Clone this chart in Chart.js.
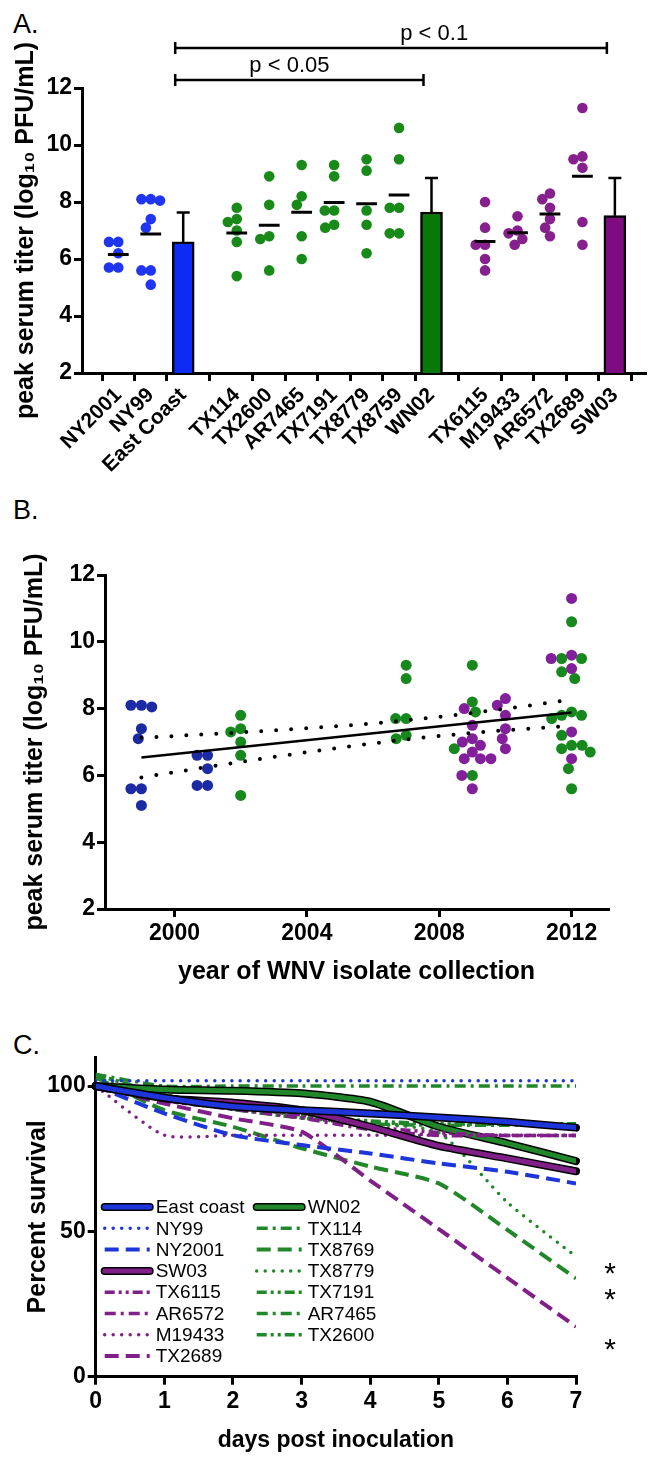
<!DOCTYPE html>
<html>
<head>
<meta charset="utf-8">
<script src="https://cdn.jsdelivr.net/npm/chart.js@4.4.1/dist/chart.umd.min.js"></script>
<style>
  body { margin: 0; background: #fff; width: 662px; height: 1462px; position: relative; overflow: hidden;
         font-family: 'Liberation Sans', Arial, Helvetica, sans-serif; }
  canvas { position: absolute; left: 0; }
  .panel { position: absolute; left: 13px; font-size: 27px; line-height: 1; color: #000; }
</style>
</head>
<body>
<div class="panel" style="top:11px">A.</div>
<div class="panel" style="top:497px">B.</div>
<div class="panel" style="top:1032px">C.</div>
<canvas id="chartA" width="662" height="485" style="top:0"></canvas>
<canvas id="chartB" width="662" height="525" style="top:485px"></canvas>
<canvas id="chartC" width="662" height="452" style="top:1010px"></canvas>
<script>
// ---- Panel A / B data: peak serum titers (log10 PFU/mL) ----
const strainsA = ['NY2001', 'NY99', 'East Coast', 'TX114', 'TX2600', 'AR7465', 'TX7191', 'TX8779', 'TX8759', 'WN02',
                  'TX6115', 'M19433', 'AR6572', 'TX2689', 'SW03'];
const groupA = [0, 0, 0, 1, 1, 1, 1, 1, 1, 1, 2, 2, 2, 2, 2];

const ny2001 = [6.6, 6.6, 6.2, 5.7, 5.7];
const ny99   = [8.1, 8.1, 8.05, 7.4, 7.1, 5.6, 5.6, 5.1];
const tx114  = [7.8, 7.4, 7.3, 7.0, 6.6, 5.4];
const tx2600 = [8.9, 7.9, 6.8, 6.7, 5.6];
const ar7465 = [9.3, 8.2, 7.9, 6.8, 6.0];
const tx7191 = [9.3, 8.9, 7.7, 7.7, 7.2, 7.1];
const tx8779 = [9.5, 9.1, 7.7, 7.2, 6.2];
const tx8759 = [10.6, 9.5, 7.8, 7.8, 6.9, 6.9];
const tx6115 = [8.0, 7.1, 6.5, 6.5, 6.0, 5.6];
const m19433 = [7.5, 7.0, 6.9, 6.7, 6.5];
const ar6572 = [8.3, 8.1, 7.8, 7.4, 7.1, 6.8];
const tx2689 = [11.3, 9.6, 9.5, 9.2, 7.3, 6.5];

const barNames = ['East Coast', 'WN02', 'SW03'];
const barMeans = [6.6, 7.65, 7.52];
const barErr   = [1.03, 1.19, 1.32];

const yTicksA = [2, 4, 6, 8, 10, 12];

// year each isolate was collected (panel B)
const isolatesB = ['NY99', 'NY2001', 'TX114', 'TX7191', 'AR7465', 'TX6115', 'M19433', 'AR6572', 'TX2600', 'TX8779', 'TX8759', 'TX2689'];
const isolateYears = [1999, 2001, 2002, 2007, 2009, 2009, 2009, 2010, 2012, 2012, 2012, 2012];
const xTicksB = [2000, 2004, 2008, 2012];

// ---- Panel C data: percent survival ----
const daysC = [0, 1, 2, 3, 4, 5, 6, 7];
const survEastCoast = [100, 96, 93, 91.7, 90.6, 89.2, 87.7, 85.7];
const survNY99      = [101.8, 101.8, 101.8, 101.8, 101.8, 101.8, 101.8, 101.8];
const survNY2001    = [100, 90.6, 83.1, 79.7, 76.8, 73.4, 70.5, 66.5];
const survSW03      = [100, 95.8, 94.3, 91.7, 86, 79.4, 75.1, 70.7];
const survTX6115    = [100, 96, 93, 90, 86, 84, 83, 83];
const survAR6572    = [100, 95, 92, 89, 85, 83, 83, 83];
const survM19433    = [100, 83.1, 83.1, 83.1, 83.1, 83.1, 83.1, 83.1];
const survTX2689    = [100, 94, 88.9, 84.3, 67.5, 50.8, 34, 17.2];
const survWN02      = [100, 98.8, 98.4, 97.5, 94.6, 86, 80.3, 74.2];
const survTX114     = [104, 100, 100, 100, 100, 100, 100, 100];
const survTX8769    = [103, 91.7, 86, 78.6, 72.3, 66.5, 50.5, 33.8];
const survTX8779    = [102, 95, 92, 89, 87, 84, 60, 41.3];
const survTX7191    = [104, 97, 93, 90, 88, 87, 87, 87];
const survAR7465    = [103, 96, 92, 89, 87, 86.5, 86.5, 86.5];
const survTX2600    = [104, 97, 93, 90, 87.5, 87, 87, 87];
const yTicksC = [0, 50, 100];
const starValuesC = [38, 29, 12];

// ---- styling ----
Chart.defaults.font.family = "'Liberation Sans', Arial, Helvetica, sans-serif";
Chart.defaults.color = '#000';
const TICK_FONT = { size: 23, weight: 'bold' };
const TITLE_FONT = { size: 25, weight: 'bold' };
const dotColorsA = ['#1f35ef', '#178a17', '#86208d'];
const barColorsA = ['#0d2bf2', '#087808', '#7d0c80'];
const dotColorsB = ['#1c2ba3', '#17881d', '#82209c'];
const blueC = '#1d35d9', greenC = '#22872a', purpleC = '#7f1f87';

function axis(extra) {
  return Object.assign({
    grid: { drawOnChartArea: false, color: '#000', lineWidth: 3, tickLength: 8 },
    border: { color: '#000', width: 3 }
  }, extra);
}
// pin a scale's size so the plot area lands where the figure has it
const fixWidth = w => s => { s.width = w; s.paddingTop = 0; s.paddingBottom = 0; };
const fixHeight = h => s => { s.height = h; s.paddingLeft = 0; s.paddingRight = 0; };

const mean = a => a.reduce((s, v) => s + v, 0) / a.length;

// simple beeswarm: returns an x for each value, spread sideways to avoid overlap
function swarm(values, center, unitX, unitY, diam) {
  const placed = [];
  const xs = new Array(values.length);
  const order = values.map((v, i) => i).sort((a, b) => values[b] - values[a]);
  order.forEach(i => {
    const y = values[i] / unitY;
    const blocked = [];
    placed.forEach(p => {
      const dy = Math.abs(p.y - y);
      if (dy < diam) {
        const w = Math.sqrt(diam * diam - dy * dy);
        blocked.push([p.x - w, p.x + w]);
      }
    });
    const cands = [0];
    blocked.forEach(b => cands.push(b[0], b[1]));
    cands.sort((a, b) => Math.abs(a) - Math.abs(b));
    const x = cands.find(c => blocked.every(b => c <= b[0] + 1e-6 || c >= b[1] - 1e-6));
    placed.push({ x, y });
    xs[i] = center + x * unitX;
  });
  return xs;
}

const titersA = {
  NY2001: ny2001, NY99: ny99, TX114: tx114, TX2600: tx2600, AR7465: ar7465, TX7191: tx7191,
  TX8779: tx8779, TX8759: tx8759, TX6115: tx6115, M19433: m19433, AR6572: ar6572, TX2689: tx2689
};

// ================= Panel A =================
const groupGapA = 0.65;
const posA = strainsA.map((s, i) => i + groupA[i] * groupGapA);
const dotsA = [[], [], []];
const meanLineA = [];
strainsA.forEach((name, i) => {
  const vals = titersA[name];
  if (!vals) return;
  const xs = swarm(vals, posA[i], 1 / 34.8, 10 / 285, 10);
  vals.forEach((v, j) => dotsA[groupA[i]].push({ x: xs[j], y: v }));
  const m = mean(vals);
  meanLineA.push({ x: posA[i] - 0.32, y: m }, { x: posA[i] + 0.32, y: m }, { x: posA[i], y: null });
});
const barsA = barNames.map((n, i) => ({ x: posA[strainsA.indexOf(n)], y: barMeans[i] }));

const comparisonsA = [
  { from: 'East Coast', to: 'WN02', text: 'p < 0.05', lift: 8, textAt: 0.46 },
  { from: 'East Coast', to: 'SW03', text: 'p < 0.1', lift: 40, textAt: 0.6 }
];

const errorBarsA = {
  id: 'errorBarsA',
  afterDatasetsDraw(chart) {
    const { ctx, scales: { x, y }, chartArea } = chart;
    ctx.save();
    ctx.strokeStyle = '#000';
    ctx.lineWidth = 2.5;
    barNames.forEach((n, i) => {
      const px = x.getPixelForValue(posA[strainsA.indexOf(n)]);
      const y0 = y.getPixelForValue(barMeans[i]);
      const y1 = y.getPixelForValue(barMeans[i] + barErr[i]);
      ctx.beginPath();
      ctx.moveTo(px, y0); ctx.lineTo(px, y1);
      ctx.moveTo(px - 6.5, y1); ctx.lineTo(px + 6.5, y1);
      ctx.stroke();
    });
    ctx.font = "22px 'Liberation Sans', Arial, sans-serif";
    ctx.fillStyle = '#000';
    ctx.textAlign = 'center';
    ctx.textBaseline = 'alphabetic';
    comparisonsA.forEach(c => {
      const x0 = x.getPixelForValue(posA[strainsA.indexOf(c.from)]) - 8;
      const x1 = x.getPixelForValue(posA[strainsA.indexOf(c.to)]) - 8;
      const by = chartArea.top - c.lift;
      ctx.beginPath();
      ctx.moveTo(x0, by); ctx.lineTo(x1, by);
      ctx.moveTo(x0, by - 6); ctx.lineTo(x0, by + 6);
      ctx.moveTo(x1, by - 6); ctx.lineTo(x1, by + 6);
      ctx.stroke();
      ctx.fillText(c.text, x0 + (x1 - x0) * c.textAt, by - 8);
    });
    ctx.restore();
  }
};

new Chart(document.getElementById('chartA'), {
  type: 'scatter',
  data: {
    datasets: [
      { type: 'line', data: meanLineA, borderColor: '#000', borderWidth: 3, pointRadius: 0, spanGaps: false },
      ...dotsA.map((pts, g) => ({ type: 'scatter', data: pts, backgroundColor: dotColorsA[g], pointRadius: 5.3, pointHoverRadius: 5.3, borderWidth: 0 })),
      { type: 'bar', data: barsA, backgroundColor: barColorsA, borderColor: '#000', borderWidth: 2.5, barThickness: 22 }
    ]
  },
  options: {
    responsive: false, animation: false, devicePixelRatio: 1,
    layout: { padding: { top: 88, right: 17, left: 0, bottom: 0 } },
    plugins: { legend: { display: false }, tooltip: { enabled: false } },
    scales: {
      x: axis({
        type: 'linear', min: -0.54, max: 15.65,
        afterBuildTicks: s => { s.ticks = posA.map(v => ({ value: v })); },
        afterFit: fixHeight(112),
        ticks: { autoSkip: false, minRotation: 45, maxRotation: 45, padding: 2, font: { size: 21, weight: 'bold' },
                 callback: (v, i) => strainsA[i] }
      }),
      y: axis({
        min: 2, max: 12,
        afterBuildTicks: s => { s.ticks = yTicksA.map(v => ({ value: v })); },
        afterFit: fixWidth(82),
        ticks: { padding: 2, font: TICK_FONT },
        title: { display: true, text: 'peak serum titer (log\u2081\u2080 PFU/mL)', font: TITLE_FONT, padding: { top: 11, bottom: 0 } }
      })
    }
  },
  plugins: [errorBarsA]
});

// ================= Panel B =================
const dotsB = [[], [], []];
const regPts = [];
[...new Set(isolateYears)].forEach(yr => {
  const items = [];
  isolatesB.forEach((name, i) => {
    if (isolateYears[i] !== yr) return;
    const g = groupA[strainsA.indexOf(name)];
    titersA[name].forEach(v => items.push({ v, g }));
  });
  const xs = swarm(items.map(d => d.v), yr, 15.2 / 503, 10 / 334, 10.5);
  items.forEach((d, j) => {
    dotsB[d.g].push({ x: xs[j], y: d.v });
    regPts.push([yr, d.v]);
  });
});

// linear regression with 95% confidence band
const n = regPts.length;
const mx = mean(regPts.map(p => p[0])), my = mean(regPts.map(p => p[1]));
let sxx = 0, sxy = 0;
regPts.forEach(([px, py]) => { sxx += (px - mx) ** 2; sxy += (px - mx) * (py - my); });
const slope = sxy / sxx, icpt = my - slope * mx;
let sse = 0;
regPts.forEach(([px, py]) => { sse += (py - (icpt + slope * px)) ** 2; });
const sRes = Math.sqrt(sse / (n - 2));
const tCrit = 1.996;
const yrMin = Math.min(...isolateYears), yrMax = Math.max(...isolateYears);
const fitLine = [yrMin, yrMax].map(x => ({ x, y: icpt + slope * x }));
const bandUpper = [], bandLower = [];
for (let x = yrMin; x <= yrMax + 1e-9; x += 0.25) {
  const h = tCrit * sRes * Math.sqrt(1 / n + (x - mx) ** 2 / sxx);
  bandUpper.push({ x, y: icpt + slope * x + h });
  bandLower.push({ x, y: icpt + slope * x - h });
}
const dottedB = { type: 'line', borderColor: '#000', borderWidth: 4, borderDash: [0, 15], borderCapStyle: 'round', pointRadius: 0, tension: 0.3 };

new Chart(document.getElementById('chartB'), {
  type: 'scatter',
  data: {
    datasets: [
      { type: 'line', data: fitLine, borderColor: '#000', borderWidth: 2.5, pointRadius: 0 },
      Object.assign({ data: bandUpper }, dottedB),
      Object.assign({ data: bandLower }, dottedB),
      { data: dotsB[0], backgroundColor: dotColorsB[0], pointRadius: 5.5, pointHoverRadius: 5.5, borderWidth: 0 },
      { data: dotsB[2], backgroundColor: dotColorsB[2], pointRadius: 5.5, pointHoverRadius: 5.5, borderWidth: 0 },
      { data: dotsB[1], backgroundColor: dotColorsB[1], pointRadius: 5.5, pointHoverRadius: 5.5, borderWidth: 0 }
    ]
  },
  options: {
    responsive: false, animation: false, devicePixelRatio: 1,
    layout: { padding: { top: 90, right: 54, left: 0, bottom: 0 } },
    plugins: { legend: { display: false }, tooltip: { enabled: false } },
    scales: {
      x: axis({
        type: 'linear', min: 1997.9, max: 2013.1,
        afterBuildTicks: s => { s.ticks = xTicksB.map(v => ({ value: v })); },
        afterFit: fixHeight(101),
        ticks: { padding: 3, font: TICK_FONT, callback: v => String(v) },
        title: { display: true, text: 'year of WNV isolate collection', font: TITLE_FONT, padding: { top: 4, bottom: 23 } }
      }),
      y: axis({
        min: 2, max: 12,
        afterBuildTicks: s => { s.ticks = yTicksA.map(v => ({ value: v })); },
        afterFit: fixWidth(105),
        ticks: { padding: 2, font: TICK_FONT },
        title: { display: true, text: 'peak serum titer (log\u2081\u2080 PFU/mL)', font: TITLE_FONT, padding: { top: 20, bottom: 0 } }
      })
    }
  }
});

// ================= Panel C =================
const lineStyles = {
  thick:      { borderWidth: 5, borderDash: [], outline: true, borderCapStyle: 'round' },
  dot:        { borderWidth: 3.5, borderDash: [0, 8.5], borderCapStyle: 'round' },
  dash:       { borderWidth: 4, borderDash: [14, 7], borderCapStyle: 'butt' },
  dashDot:    { borderWidth: 3.5, borderDash: [11, 5, 3, 5], borderCapStyle: 'butt' },
  dashDotDot: { borderWidth: 3.5, borderDash: [10, 4, 3, 4, 3, 4], borderCapStyle: 'butt' }
};
const seriesC = [
  ['East coast', survEastCoast, blueC, 'thick'],
  ['NY99', survNY99, blueC, 'dot'],
  ['NY2001', survNY2001, blueC, 'dash'],
  ['SW03', survSW03, purpleC, 'thick'],
  ['TX6115', survTX6115, purpleC, 'dashDotDot'],
  ['AR6572', survAR6572, purpleC, 'dashDot'],
  ['M19433', survM19433, purpleC, 'dot'],
  ['TX2689', survTX2689, purpleC, 'dash'],
  ['WN02', survWN02, greenC, 'thick'],
  ['TX114', survTX114, greenC, 'dashDot'],
  ['TX8769', survTX8769, greenC, 'dash'],
  ['TX8779', survTX8779, greenC, 'dot'],
  ['TX7191', survTX7191, greenC, 'dashDotDot'],
  ['AR7465', survAR7465, greenC, 'dashDot'],
  ['TX2600', survTX2600, greenC, 'dashDotDot']
];

const outlineC = {
  id: 'outlineC',
  beforeDatasetDraw(chart, args) {
    const ds = chart.data.datasets[args.index];
    if (!ds.outline) return;
    const pts = args.meta.data;
    const ctx = chart.ctx;
    ctx.save();
    ctx.beginPath();
    pts.forEach((p, i) => {
      if (i === 0) { ctx.moveTo(p.x, p.y); return; }
      const q = pts[i - 1];
      if (q.cp2x !== undefined && p.cp1x !== undefined) ctx.bezierCurveTo(q.cp2x, q.cp2y, p.cp1x, p.cp1y, p.x, p.y);
      else ctx.lineTo(p.x, p.y);
    });
    ctx.lineWidth = ds.borderWidth + 3;
    ctx.strokeStyle = '#000';
    ctx.lineCap = 'round';
    ctx.lineJoin = 'round';
    ctx.stroke();
    ctx.restore();
  },
  afterDraw(chart) {
    const { ctx, chartArea, scales: { y } } = chart;
    ctx.save();
    // legend in two columns
    ctx.font = "19px 'Liberation Sans', Arial, sans-serif";
    ctx.fillStyle = '#000';
    ctx.textBaseline = 'middle';
    ctx.textAlign = 'left';
    chart.data.datasets.forEach((ds, i) => {
      const col = i < 8 ? 0 : 1;
      const row = col ? i - 8 : i;
      const x0 = chartArea.left + (col ? 161 : 9);
      const x1 = x0 + 45;
      const ly = chartArea.top + 150 + row * 21.3;
      if (ds.outline) {
        ctx.setLineDash([]);
        ctx.lineCap = 'round';
        ctx.strokeStyle = '#000';
        ctx.lineWidth = ds.borderWidth + 3;
        ctx.beginPath(); ctx.moveTo(x0, ly); ctx.lineTo(x1, ly); ctx.stroke();
      }
      ctx.setLineDash(ds.borderDash);
      ctx.lineCap = ds.borderCapStyle;
      ctx.strokeStyle = ds.borderColor;
      ctx.lineWidth = ds.borderWidth;
      ctx.beginPath(); ctx.moveTo(x0, ly); ctx.lineTo(x1, ly); ctx.stroke();
      ctx.fillText(ds.label, x1 + 6, ly + 1);
    });
    // significance stars
    ctx.setLineDash([]);
    ctx.font = "30px 'Liberation Sans', Arial, sans-serif";
    ctx.textAlign = 'center';
    ctx.textBaseline = 'alphabetic';
    starValuesC.forEach(v => ctx.fillText('*', chartArea.right + 34, y.getPixelForValue(v) + 17));
    ctx.restore();
  }
};

new Chart(document.getElementById('chartC'), {
  type: 'line',
  data: {
    datasets: seriesC.map(([label, surv, color, style]) => Object.assign({
      label,
      data: surv.map((v, i) => ({ x: daysC[i], y: v })),
      borderColor: color,
      pointRadius: 0,
      tension: 0.2,
      fill: false
    }, lineStyles[style]))
  },
  options: {
    responsive: false, animation: false, devicePixelRatio: 1,
    layout: { padding: { top: 47, right: 86, left: 0, bottom: 0 } },
    plugins: { legend: { display: false }, tooltip: { enabled: false } },
    scales: {
      x: axis({
        type: 'linear', min: 0, max: 7,
        afterBuildTicks: s => { s.ticks = daysC.map(v => ({ value: v })); },
        afterFit: fixHeight(85.3),
        ticks: { padding: 3, font: TICK_FONT },
        title: { display: true, text: 'days post inoculation', font: { size: 23, weight: 'bold' }, padding: { top: 4, bottom: 8 } }
      }),
      y: axis({
        min: 0, max: 110,
        afterBuildTicks: s => { s.ticks = yTicksC.map(v => ({ value: v })); },
        afterFit: fixWidth(95.7),
        ticks: { padding: 2, font: TICK_FONT },
        title: { display: true, text: 'Percent survival', font: TITLE_FONT, padding: { top: 23, bottom: 0 } }
      })
    }
  },
  plugins: [outlineC]
});
</script>
</body>
</html>
